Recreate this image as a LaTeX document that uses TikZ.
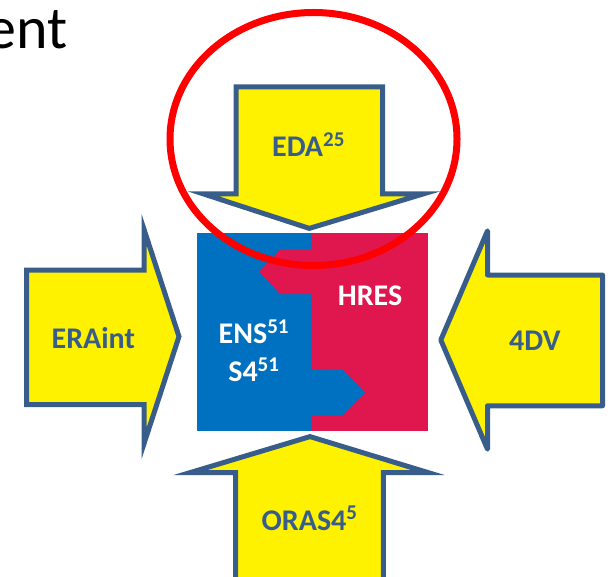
\documentclass[tikz,border=0pt]{standalone}
\usepackage{fontspec}
\setmainfont{Carlito}
\usepackage{xcolor}
\definecolor{edge}{HTML}{385D8A}
\definecolor{ensblue}{HTML}{0070C0}
\definecolor{hresred}{HTML}{E0174F}

\begin{document}
\begin{tikzpicture}[x=0.75pt,y=-0.75pt,
  feed/.style={fill=yellow,draw=edge,line width=3.75pt,miter limit=10},
  feedlabel/.style={text=edge,font=\fontsize{22.5}{27}\selectfont\bfseries,inner sep=0pt,anchor=base},
  modellabel/.style={text=white,font=\fontsize{22.5}{27}\selectfont\bfseries,inner sep=0pt,anchor=base}]
\useasboundingbox (0,0) rectangle (613,577);

% Title (cut off at the left)
\node[font=\fontsize{45}{54}\selectfont,anchor=base east,inner sep=0pt] (title) at (68,48.3) {ent};

% Arrows
\draw[feed] (236,87) -- (382.5,87) -- (382.5,194) -- (423,194) -- (309.3,228.4)
  -- (203.7,194) -- (236,194) -- cycle;                                   % EDA
\draw[feed] (26.7,270) -- (144.2,270) -- (144.2,230) -- (179,336.5)
  -- (144.2,443) -- (144.2,404.7) -- (26.7,404.7) -- cycle;               % ERAint
\draw[feed,line join=round] (602.5,275) -- (487.5,275) -- (487.5,230.8) -- (440.8,340)
  -- (487.5,449.2) -- (487.5,405.8) -- (602.5,405.8) -- cycle;            % 4DV
\draw[feed] (235.5,595) -- (235.5,472.5) -- (190.5,472.5) -- (310,436.6)
  -- (427.8,472.5) -- (383.3,472.5) -- (383.3,595) -- cycle;              % ORAS4

% Model block
\fill[ensblue] (196.5,233.3) rectangle (312,431);
\fill[hresred] (312,233.3) rectangle (428,431);
\fill[hresred] (312,249.3) -- (280,249.3) -- (259.3,271.7) -- (280,294) -- (312,294) -- cycle;
\fill[ensblue] (312,370) -- (343.3,370) -- (365,392.7) -- (343.3,415) -- (312,415) -- cycle;

% Labels
\node[feedlabel] (eda) at (308.6,157) {EDA\textsuperscript{25}};
\node[feedlabel] (eraint) at (93.3,348.3) {ERAint};
\node[feedlabel] (fourdv) at (534.8,350.7) {4DV};
\node[feedlabel] (oras) at (309.7,530) {ORAS4\textsuperscript{5}};
\node[modellabel] (hres) at (370,305) {HRES};
\node[modellabel] (ens) at (254,343.3) {ENS\textsuperscript{51}};
\node[modellabel] (sfour) at (254,381.7) {S4\textsuperscript{51}};

% Highlight
\draw[red,line width=5.25pt] (313.5,139) ellipse [x radius=143.5,y radius=126.5];

\end{tikzpicture}
\end{document}
